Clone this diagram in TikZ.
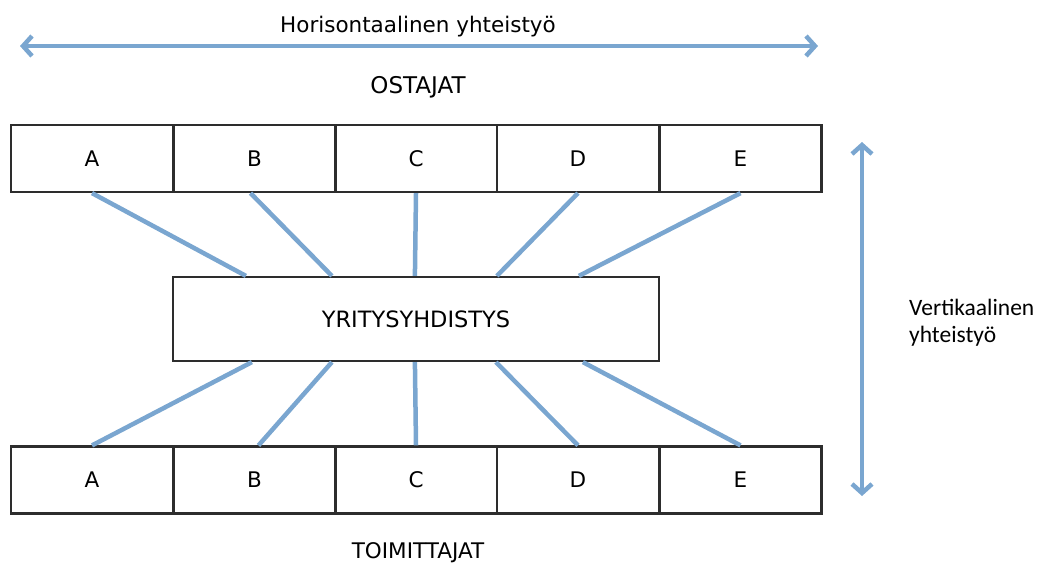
\documentclass[tikz,border=0pt]{standalone}
\usepackage{fontspec}
\setmainfont{DejaVu Sans}
\newfontfamily\calfont{Carlito}
\usetikzlibrary{arrows.meta,calc}
\definecolor{linkblue}{RGB}{122,166,208}
\definecolor{boxgray}{RGB}{45,45,45}
\begin{document}
\begin{tikzpicture}[x=1pt,y=-1pt,
  cell/.style={draw=boxgray,line width=2.2pt,minimum width=162pt,minimum height=67pt,inner sep=0pt,font=\fontsize{21.5}{25}\selectfont},
  hub/.style={draw=boxgray,line width=2.2pt,minimum width=486pt,minimum height=84pt,inner sep=0pt,font=\fontsize{22.5}{26}\selectfont},
  link/.style={draw=linkblue,line width=4.5pt},
  dbl/.style={draw=linkblue,line width=4.5pt,{Straight Barb[length=9pt,width=20pt,line width=4.5pt]}-{Straight Barb[length=9pt,width=20pt,line width=4.5pt]}},
  lbl/.style={font=\fontsize{21.5}{25}\selectfont,inner sep=0pt}]
\useasboundingbox (0,0) rectangle (1040,565);
% top row
\node[cell] (tA) at (92,158.5) {A};
\node[cell] (tB) at (254.5,158.5) {B};
\node[cell] (tC) at (416,158.5) {C};
\node[cell] (tD) at (578,158.5) {D};
\node[cell] (tE) at (740.5,158.5) {E};
% bottom row
\node[cell] (bA) at (92,480) {A};
\node[cell] (bB) at (254.5,480) {B};
\node[cell] (bC) at (416,480) {C};
\node[cell] (bD) at (578,480) {D};
\node[cell] (bE) at (740.5,480) {E};
% hub
\node[hub] (mid) at (416,319) {YRITYSYHDISTYS};
% anchor points on hub
\path (mid.north west) ++(74,0) coordinate (mt1);
\path (mid.north west) ++(160,0) coordinate (mt2);
\path (mid.north west) ++(243,0) coordinate (mt3);
\path (mid.north west) ++(325,0) coordinate (mt4);
\path (mid.north west) ++(407,0) coordinate (mt5);
\path (mid.south west) ++(80,0) coordinate (mb1);
\path (mid.south west) ++(160,0) coordinate (mb2);
\path (mid.south west) ++(243,0) coordinate (mb3);
\path (mid.south west) ++(324,0) coordinate (mb4);
\path (mid.south west) ++(411,0) coordinate (mb5);
% connectors
\draw[link] (tA.south) -- (mt1);
\draw[link] ([xshift=-4pt]tB.south) -- (mt2);
\draw[link] (tC.south) -- (mt3);
\draw[link] (tD.south) -- (mt4);
\draw[link] (tE.south) -- (mt5);
\draw[link] (mb1) -- (bA.north);
\draw[link] (mb2) -- ([xshift=4pt]bB.north);
\draw[link] (mb3) -- (bC.north);
\draw[link] (mb4) -- (bD.north);
\draw[link] (mb5) -- (bE.north);
% labels
\node[lbl,font=\fontsize{23}{26}\selectfont] (ost) at (418,87) {OSTAJAT};
\node[lbl] (toi) at (418,553) {TOIMITTAJAT};
\node[lbl] (hor) at (418,27) {Horisontaalinen yhteistyö};
\node[inner sep=0pt,align=left,anchor=west,font=\calfont\fontsize{23.5}{27}\selectfont] (ver) at (909,323) {Vertikaalinen\\yhteistyö};
% arrows
\coordinate (hl) at (20,46);
\coordinate (hr) at (818,46);
\draw[dbl] (hl) -- (hr);
\coordinate (vt) at (862,142);
\coordinate (vb) at (862,496);
\draw[dbl] (vt) -- (vb);
\end{tikzpicture}
\end{document}
